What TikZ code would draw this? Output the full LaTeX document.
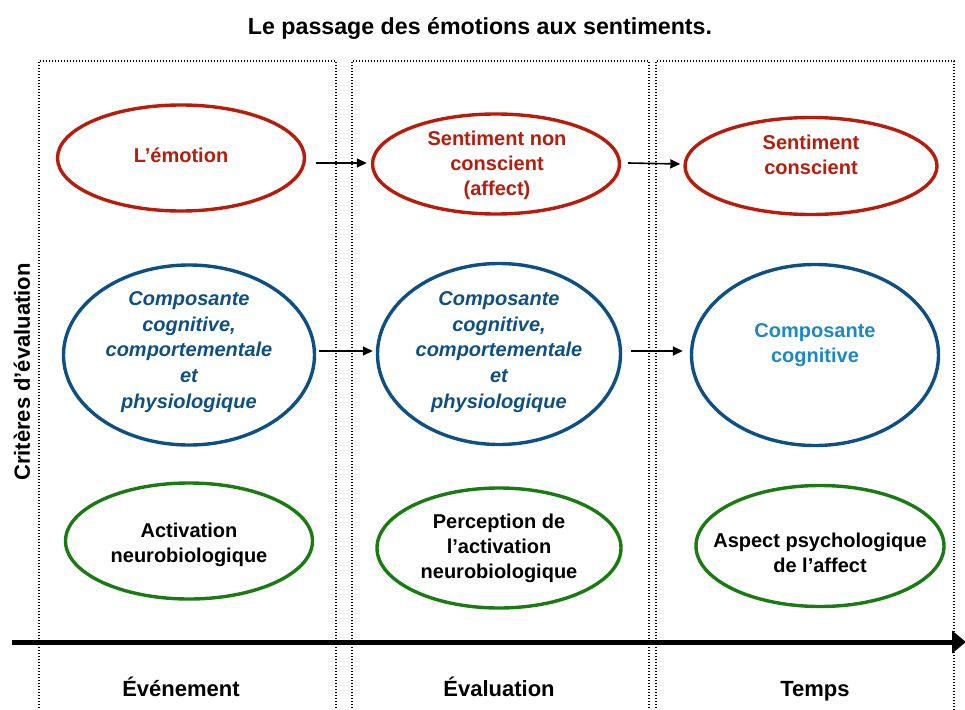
\documentclass[tikz,border=0pt]{standalone}
\usepackage{fontspec}
\setmainfont{Liberation Sans}
\usetikzlibrary{shapes.geometric,arrows.meta}
\definecolor{cred}{HTML}{B81C0C}
\definecolor{cblue}{HTML}{0E4F84}
\definecolor{clight}{HTML}{1C87C9}
\definecolor{cgreen}{HTML}{1A7A14}
\tikzset{
  ell/.style={ellipse, draw, line width=3.4pt, inner sep=0pt},
  redell/.style={ell, draw=cred},
  blueell/.style={ell, draw=cblue},
  greenell/.style={ell, draw=cgreen},
  txt/.style={align=center, font=\fontsize{20}{25}\selectfont\bfseries, inner sep=0pt},
  colbox/.style={draw=black, line width=1.3pt, dash pattern=on 1.4pt off 1.6pt},
  conn/.style={draw=black, line width=1.6pt, -{Triangle[length=10pt,width=9pt]}},
  axis/.style={draw=black, line width=5pt, -{Triangle[length=14pt,width=22pt]}},
  lab/.style={font=\fontsize{22}{26}\selectfont\bfseries, inner sep=0pt}
}
\begin{document}
\begin{tikzpicture}[x=1pt,y=-1pt]
\useasboundingbox (0,0) rectangle (965,709);
% title
\node[lab, anchor=base, font=\fontsize{23.2}{27}\selectfont\bfseries] (title) at (480,35) {Le passage des émotions aux sentiments.};
% column boxes
\draw[colbox] (39,720) -- (39,61) -- (336,61) -- (336,720);
\draw[colbox] (352,720) -- (352,61) -- (649,61) -- (649,720);
\draw[colbox] (656,720) -- (656,61) -- (954,61) -- (954,720);
% left label
\node[lab, rotate=90] (crit) at (22,372) {Critères d’évaluation};
% row 1
\node[redell, minimum width=247pt, minimum height=106pt] (e1) at (181,158) {};
\node[redell, minimum width=247pt, minimum height=100pt] (e2) at (496,164) {};
\node[redell, minimum width=252pt, minimum height=97pt] (e3) at (811,166) {};
\node[txt, text=cred] (t1) at (181,155) {L’émotion};
\node[txt, text=cred] (t2) at (497,165) {Sentiment non\\conscient\\(affect)};
\node[txt, text=cred] (t3) at (811,155) {Sentiment\\conscient};
% row 2
\node[blueell, minimum width=251pt, minimum height=180pt] (b1) at (189,355) {};
\node[blueell, minimum width=243pt, minimum height=181pt] (b2) at (499,354) {};
\node[blueell, minimum width=247pt, minimum height=181pt] (b3) at (815,355) {};
\node[txt, text=cblue, font=\fontsize{20}{25.8}\selectfont\bfseries\itshape] (u1) at (189,352) {Composante\\cognitive,\\comportementale\\et\\physiologique};
\node[txt, text=cblue, font=\fontsize{20}{25.8}\selectfont\bfseries\itshape] (u2) at (499,352) {Composante\\cognitive,\\comportementale\\et\\physiologique};
\node[txt, text=clight] (u3) at (815,345) {Composante\\cognitive};
% row 3
\node[greenell, minimum width=247pt, minimum height=116pt] (g1) at (189,541) {};
\node[greenell, minimum width=244pt, minimum height=120pt] (g2) at (499,548) {};
\node[greenell, minimum width=248pt, minimum height=121pt] (g3) at (820,546) {};
\node[txt] (v1) at (189,545) {Activation\\neurobiologique};
\node[txt] (v2) at (499,548) {Perception de\\l’activation\\neurobiologique};
\node[txt] (v3) at (820,553) {Aspect psychologique\\de l’affect};
% arrows
\draw[conn] ([xshift=10pt,yshift=1pt]e2.west -| e1.east) -- ([xshift=-4pt,yshift=1pt]e2.west);
\draw[conn] ([xshift=7pt,yshift=1pt]e2.east) -- ([xshift=-3pt]e2.east -| e3.west) ;
\draw[conn] ([xshift=3pt,yshift=3pt]b2.west -| b1.east) -- ([xshift=-3pt,yshift=3pt]b2.west);
\draw[conn] ([xshift=9pt,yshift=3pt]b2.east) -- ([xshift=-7pt,yshift=3pt]b2.east -| b3.west);
% time axis
\coordinate (ax0) at (12,642);
\coordinate (ax1) at (966,642);
\draw[axis] (ax0) -- (ax1);
% bottom labels
\node[lab, anchor=base] (l1) at (181,696) {Événement};
\node[lab, anchor=base] (l2) at (499,696) {Évaluation};
\node[lab, anchor=base] (l3) at (815,696) {Temps};
\end{tikzpicture}
\end{document}
